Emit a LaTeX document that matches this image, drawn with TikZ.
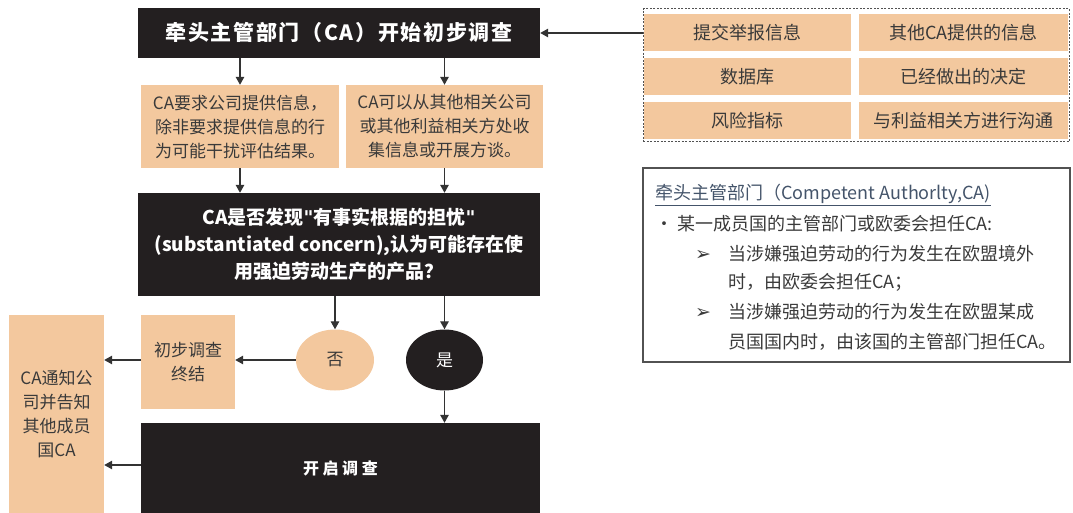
\documentclass[tikz,border=0pt]{standalone}
\usepackage{fontspec}
\setmainfont{Noto Sans CJK SC}
\newfontfamily\djv{DejaVu Sans}
\usetikzlibrary{arrows.meta,shapes.geometric}
\definecolor{peach}{HTML}{F3C89E}
\definecolor{ink}{HTML}{231F20}
\definecolor{txt}{HTML}{3A3A3A}
\definecolor{slate}{HTML}{44546A}
\definecolor{lnc}{HTML}{333333}
\begin{document}
\begin{tikzpicture}[x=1pt,y=-1pt,
  dark/.style={fill=ink,text=white,inner sep=0pt,align=center},
  pbox/.style={fill=peach,text=txt,inner sep=0pt,align=center,font=\fontsize{17}{24}\selectfont},
  cell/.style={fill=peach,text=txt,inner sep=0pt,minimum height=37pt,font=\fontsize{18}{22}\selectfont},
  arr/.style={draw=lnc,line width=1.3pt,-{Triangle[length=8pt,width=8.5pt]}},
  itxt/.style={anchor=base west,inner sep=0pt,text=txt,font=\fontsize{18}{22}\selectfont},
  ]
\useasboundingbox (0,0) rectangle (1073,513);
% main column
\node[dark,minimum width=402pt,minimum height=50pt,font=\fontsize{21}{25}\selectfont\bfseries\addfontfeature{LetterSpace=8}] (top) at (339,33) {牵头主管部门（CA）开始初步调查};
\node[pbox,minimum width=198pt,minimum height=83pt] (lp) at (240,126.5) {CA要求公司提供信息，\\除非要求提供信息的行\\为可能干扰评估结果。};
\node[pbox,minimum width=197pt,minimum height=83pt] (rp) at (444.5,126.5) {CA可以从其他相关公司\\或其他利益相关方处收\\集信息或开展方谈。};
\node[dark,minimum width=402pt,minimum height=103pt,font=\fontsize{19}{27}\selectfont\bfseries] (mid) at (339,244.5) {CA是否发现{\djv\bfseries\symbol{"22}}有事实根据的担忧{\djv\bfseries\symbol{"22}}\\(substantiated concern),认为可能存在使\\用强迫劳动生产的产品？};
\node[ellipse,fill=peach,text=txt,minimum width=78pt,minimum height=61pt,inner sep=0pt,font=\fontsize{17}{20}\selectfont] (no) at (335,360) {否};
\node[ellipse,fill=ink,text=white,minimum width=77pt,minimum height=61pt,inner sep=0pt,font=\fontsize{17}{20}\selectfont] (yes) at (444.5,360) {是};
\node[pbox,minimum width=94pt,minimum height=94pt] (stop) at (188,362) {初步调查\\终结};
\node[pbox,minimum width=95pt,minimum height=198pt] (notify) at (56.5,414) {CA通知公\\司并告知\\其他成员\\国CA};
\node[dark,minimum width=399pt,minimum height=90pt,font=\fontsize{16}{20}\selectfont\bfseries\addfontfeature{LetterSpace=22}] (open) at (340.5,468) {开启调查};
% sources
\node[draw=lnc!85,dash pattern=on 2pt off 1.5pt,line width=1pt,minimum width=426pt,minimum height=133pt,inner sep=0pt] (src) at (856,75.5) {};
\node[cell,minimum width=207pt] (c11) at (747.5,32.5) {提交举报信息};
\node[cell,minimum width=209pt] (c12) at (963.5,32.5) {其他CA提供的信息};
\node[cell,minimum width=207pt] (c21) at (747.5,76.5) {数据库};
\node[cell,minimum width=209pt] (c22) at (963.5,76.5) {已经做出的决定};
\node[cell,minimum width=207pt] (c31) at (747.5,120.5) {风险指标};
\node[cell,minimum width=209pt] (c32) at (963.5,120.5) {与利益相关方进行沟通};
% info box
\node[draw=lnc!85,line width=1.2pt,minimum width=427pt,minimum height=194pt,inner sep=0pt] (info) at (856.5,265) {};
\node[itxt,text=slate] (i1) at (655,200) {\underline{牵头主管部门（Competent Authorlty,CA)}};
\node[itxt] (i2) at (655,230) {•\hspace{4pt}某一成员国的主管部门或欧委会担任CA:};
\node[itxt] (i3a) at (695,260) {{\djv\fontsize{19}{20}\selectfont ➢}};
\node[itxt] (i3) at (728,260) {当涉嫌强迫劳动的行为发生在欧盟境外};
\node[itxt] (i4) at (728,288) {时，由欧委会担任CA；};
\node[itxt] (i5a) at (695,318) {{\djv\fontsize{19}{20}\selectfont ➢}};
\node[itxt] (i5) at (728,318) {当涉嫌强迫劳动的行为发生在欧盟某成};
\node[itxt] (i6) at (728,348) {员国国内时，由该国的主管部门担任CA。};
% connectors
\draw[arr] (src.west |- top.east) -- (top.east);
\draw[arr] (lp.north |- top.south) -- (lp.north);
\draw[arr] (rp.north |- top.south) -- (rp.north);
\draw[arr] (lp.south) -- (lp.south |- mid.north);
\draw[arr] (rp.south) -- (rp.south |- mid.north);
\draw[arr] (no.north |- mid.south) -- (no.north);
\draw[arr] (yes.north |- mid.south) -- (yes.north);
\draw[arr] (no.west) -- (no.west -| stop.east);
\draw[arr] (stop.west |- no.west) -- (notify.east |- no.west);
\draw[arr] (yes.south) -- (yes.south |- open.north);
\draw[arr] ([yshift=3pt]open.west) -- ([yshift=3pt]open.west -| notify.east);
\end{tikzpicture}
\end{document}
